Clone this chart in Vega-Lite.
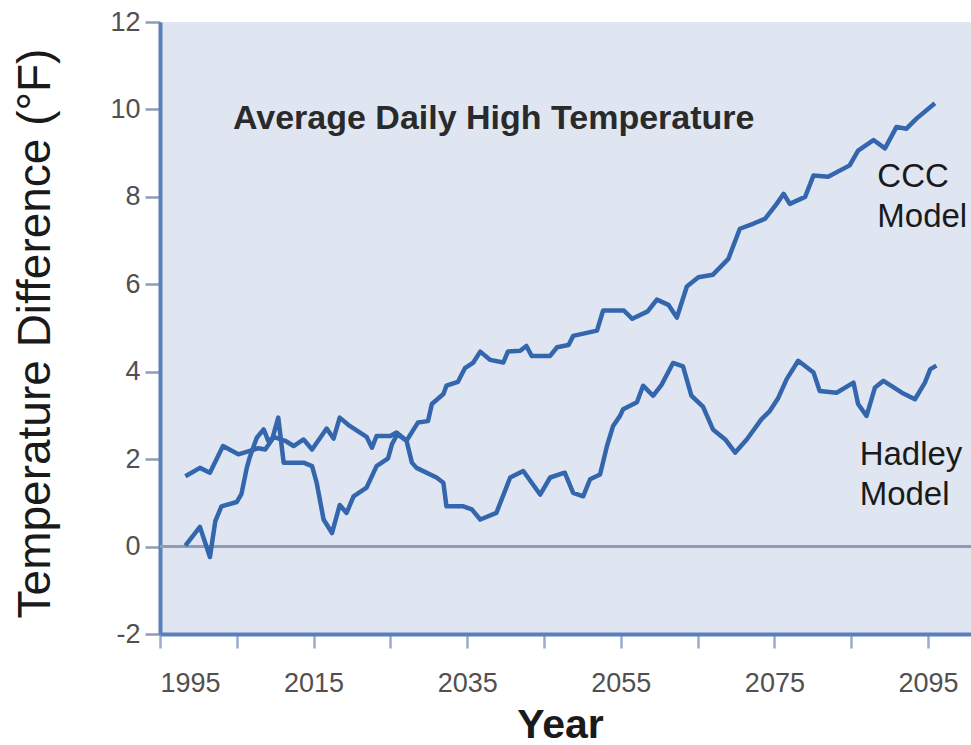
{
  "$schema": "https://vega.github.io/schema/vega-lite/v6.json",
  "width": 811,
  "height": 612,
  "autosize": "none",
  "padding": {"left": 160, "top": 22, "right": 0, "bottom": 111},
  "background": "white",
  "config": {
    "view": {"fill": "#dfe6f2", "stroke": null},
    "font": "Liberation Sans"
  },
  "datasets": {
    "series": [
      {"model": "CCC", "year": 1998.3, "temp": 0.02},
      {"model": "CCC", "year": 2000.2, "temp": 0.45},
      {"model": "CCC", "year": 2001.5, "temp": -0.24},
      {"model": "CCC", "year": 2002.2, "temp": 0.58},
      {"model": "CCC", "year": 2003.0, "temp": 0.92},
      {"model": "CCC", "year": 2005.0, "temp": 1.02},
      {"model": "CCC", "year": 2005.6, "temp": 1.2},
      {"model": "CCC", "year": 2006.3, "temp": 1.8},
      {"model": "CCC", "year": 2006.7, "temp": 2.05},
      {"model": "CCC", "year": 2007.6, "temp": 2.49},
      {"model": "CCC", "year": 2008.5, "temp": 2.68},
      {"model": "CCC", "year": 2009.1, "temp": 2.42},
      {"model": "CCC", "year": 2010.0, "temp": 2.5},
      {"model": "CCC", "year": 2011.3, "temp": 2.42},
      {"model": "CCC", "year": 2012.4, "temp": 2.3},
      {"model": "CCC", "year": 2013.7, "temp": 2.45},
      {"model": "CCC", "year": 2014.8, "temp": 2.22},
      {"model": "CCC", "year": 2016.7, "temp": 2.7},
      {"model": "CCC", "year": 2017.6, "temp": 2.47},
      {"model": "CCC", "year": 2018.4, "temp": 2.95},
      {"model": "CCC", "year": 2019.7, "temp": 2.76},
      {"model": "CCC", "year": 2021.9, "temp": 2.51},
      {"model": "CCC", "year": 2022.6, "temp": 2.26},
      {"model": "CCC", "year": 2023.2, "temp": 2.53},
      {"model": "CCC", "year": 2025.0, "temp": 2.53},
      {"model": "CCC", "year": 2025.8, "temp": 2.61},
      {"model": "CCC", "year": 2027.1, "temp": 2.42},
      {"model": "CCC", "year": 2028.6, "temp": 2.84},
      {"model": "CCC", "year": 2029.9, "temp": 2.87},
      {"model": "CCC", "year": 2030.4, "temp": 3.26},
      {"model": "CCC", "year": 2031.9, "temp": 3.49},
      {"model": "CCC", "year": 2032.3, "temp": 3.68},
      {"model": "CCC", "year": 2033.8, "temp": 3.77},
      {"model": "CCC", "year": 2034.7, "temp": 4.08},
      {"model": "CCC", "year": 2035.8, "temp": 4.21},
      {"model": "CCC", "year": 2036.7, "temp": 4.46},
      {"model": "CCC", "year": 2038.0, "temp": 4.27},
      {"model": "CCC", "year": 2039.7, "temp": 4.21},
      {"model": "CCC", "year": 2040.3, "temp": 4.46},
      {"model": "CCC", "year": 2041.9, "temp": 4.48},
      {"model": "CCC", "year": 2042.7, "temp": 4.59},
      {"model": "CCC", "year": 2043.4, "temp": 4.36},
      {"model": "CCC", "year": 2045.8, "temp": 4.36},
      {"model": "CCC", "year": 2046.7, "temp": 4.56},
      {"model": "CCC", "year": 2048.2, "temp": 4.61},
      {"model": "CCC", "year": 2048.8, "temp": 4.82},
      {"model": "CCC", "year": 2051.9, "temp": 4.94},
      {"model": "CCC", "year": 2052.7, "temp": 5.4},
      {"model": "CCC", "year": 2055.4, "temp": 5.4},
      {"model": "CCC", "year": 2056.5, "temp": 5.21},
      {"model": "CCC", "year": 2058.5, "temp": 5.38},
      {"model": "CCC", "year": 2059.7, "temp": 5.65},
      {"model": "CCC", "year": 2061.2, "temp": 5.53},
      {"model": "CCC", "year": 2062.3, "temp": 5.24},
      {"model": "CCC", "year": 2063.6, "temp": 5.95},
      {"model": "CCC", "year": 2065.1, "temp": 6.16},
      {"model": "CCC", "year": 2067.0, "temp": 6.22},
      {"model": "CCC", "year": 2069.0, "temp": 6.58},
      {"model": "CCC", "year": 2070.5, "temp": 7.27},
      {"model": "CCC", "year": 2072.3, "temp": 7.39},
      {"model": "CCC", "year": 2073.8, "temp": 7.5},
      {"model": "CCC", "year": 2075.3, "temp": 7.84},
      {"model": "CCC", "year": 2076.2, "temp": 8.07},
      {"model": "CCC", "year": 2077.0, "temp": 7.84},
      {"model": "CCC", "year": 2079.0, "temp": 8.0},
      {"model": "CCC", "year": 2080.1, "temp": 8.49},
      {"model": "CCC", "year": 2082.0, "temp": 8.46},
      {"model": "CCC", "year": 2084.8, "temp": 8.72},
      {"model": "CCC", "year": 2085.9, "temp": 9.06},
      {"model": "CCC", "year": 2087.9, "temp": 9.3},
      {"model": "CCC", "year": 2089.4, "temp": 9.11},
      {"model": "CCC", "year": 2090.9, "temp": 9.6},
      {"model": "CCC", "year": 2092.2, "temp": 9.56},
      {"model": "CCC", "year": 2093.5, "temp": 9.79},
      {"model": "CCC", "year": 2095.9, "temp": 10.14},
      {"model": "Hadley", "year": 1998.3, "temp": 1.61},
      {"model": "Hadley", "year": 2000.2, "temp": 1.8},
      {"model": "Hadley", "year": 2001.5, "temp": 1.69},
      {"model": "Hadley", "year": 2003.2, "temp": 2.3},
      {"model": "Hadley", "year": 2005.2, "temp": 2.11},
      {"model": "Hadley", "year": 2006.7, "temp": 2.19},
      {"model": "Hadley", "year": 2007.8, "temp": 2.25},
      {"model": "Hadley", "year": 2008.7, "temp": 2.22},
      {"model": "Hadley", "year": 2009.6, "temp": 2.45},
      {"model": "Hadley", "year": 2010.4, "temp": 2.95},
      {"model": "Hadley", "year": 2011.1, "temp": 1.92},
      {"model": "Hadley", "year": 2013.7, "temp": 1.92},
      {"model": "Hadley", "year": 2014.8, "temp": 1.84},
      {"model": "Hadley", "year": 2015.4, "temp": 1.46},
      {"model": "Hadley", "year": 2016.3, "temp": 0.62},
      {"model": "Hadley", "year": 2017.4, "temp": 0.31},
      {"model": "Hadley", "year": 2018.4, "temp": 0.95},
      {"model": "Hadley", "year": 2019.3, "temp": 0.77},
      {"model": "Hadley", "year": 2020.2, "temp": 1.15},
      {"model": "Hadley", "year": 2021.9, "temp": 1.35},
      {"model": "Hadley", "year": 2023.2, "temp": 1.84},
      {"model": "Hadley", "year": 2024.7, "temp": 2.02},
      {"model": "Hadley", "year": 2025.2, "temp": 2.34},
      {"model": "Hadley", "year": 2025.9, "temp": 2.57},
      {"model": "Hadley", "year": 2027.1, "temp": 2.42},
      {"model": "Hadley", "year": 2027.8, "temp": 1.92},
      {"model": "Hadley", "year": 2028.4, "temp": 1.8},
      {"model": "Hadley", "year": 2031.0, "temp": 1.58},
      {"model": "Hadley", "year": 2031.9, "temp": 1.46},
      {"model": "Hadley", "year": 2032.3, "temp": 0.92},
      {"model": "Hadley", "year": 2034.5, "temp": 0.92},
      {"model": "Hadley", "year": 2035.6, "temp": 0.85},
      {"model": "Hadley", "year": 2036.7, "temp": 0.62},
      {"model": "Hadley", "year": 2038.8, "temp": 0.77},
      {"model": "Hadley", "year": 2040.6, "temp": 1.58},
      {"model": "Hadley", "year": 2042.3, "temp": 1.73},
      {"model": "Hadley", "year": 2044.5, "temp": 1.19},
      {"model": "Hadley", "year": 2045.8, "temp": 1.58},
      {"model": "Hadley", "year": 2047.7, "temp": 1.69},
      {"model": "Hadley", "year": 2048.8, "temp": 1.23},
      {"model": "Hadley", "year": 2050.1, "temp": 1.15},
      {"model": "Hadley", "year": 2051.0, "temp": 1.54},
      {"model": "Hadley", "year": 2052.3, "temp": 1.65},
      {"model": "Hadley", "year": 2053.2, "temp": 2.3},
      {"model": "Hadley", "year": 2054.0, "temp": 2.76},
      {"model": "Hadley", "year": 2054.9, "temp": 2.99},
      {"model": "Hadley", "year": 2055.3, "temp": 3.14},
      {"model": "Hadley", "year": 2057.1, "temp": 3.3},
      {"model": "Hadley", "year": 2057.9, "temp": 3.68},
      {"model": "Hadley", "year": 2059.2, "temp": 3.45},
      {"model": "Hadley", "year": 2060.3, "temp": 3.7},
      {"model": "Hadley", "year": 2061.8, "temp": 4.2},
      {"model": "Hadley", "year": 2063.1, "temp": 4.12},
      {"model": "Hadley", "year": 2064.2, "temp": 3.45},
      {"model": "Hadley", "year": 2065.7, "temp": 3.2},
      {"model": "Hadley", "year": 2067.0, "temp": 2.68},
      {"model": "Hadley", "year": 2068.6, "temp": 2.45},
      {"model": "Hadley", "year": 2069.9, "temp": 2.15},
      {"model": "Hadley", "year": 2071.4, "temp": 2.45},
      {"model": "Hadley", "year": 2073.3, "temp": 2.91},
      {"model": "Hadley", "year": 2074.4, "temp": 3.1},
      {"model": "Hadley", "year": 2075.5, "temp": 3.4},
      {"model": "Hadley", "year": 2076.6, "temp": 3.83},
      {"model": "Hadley", "year": 2078.1, "temp": 4.25},
      {"model": "Hadley", "year": 2080.1, "temp": 3.98},
      {"model": "Hadley", "year": 2080.9, "temp": 3.56},
      {"model": "Hadley", "year": 2083.1, "temp": 3.52},
      {"model": "Hadley", "year": 2085.3, "temp": 3.75},
      {"model": "Hadley", "year": 2085.9, "temp": 3.26},
      {"model": "Hadley", "year": 2087.0, "temp": 2.99},
      {"model": "Hadley", "year": 2088.1, "temp": 3.64},
      {"model": "Hadley", "year": 2089.2, "temp": 3.79},
      {"model": "Hadley", "year": 2091.6, "temp": 3.52},
      {"model": "Hadley", "year": 2093.3, "temp": 3.37},
      {"model": "Hadley", "year": 2094.6, "temp": 3.75},
      {"model": "Hadley", "year": 2095.3, "temp": 4.06},
      {"model": "Hadley", "year": 2096.1, "temp": 4.14}
    ]
  },
  "layer": [
    {
      "data": {"values": [{}]},
      "mark": {"type": "rule", "color": "#8e9cb7", "strokeWidth": 3},
      "encoding": {"y": {"datum": 0, "type": "quantitative"}}
    },
    {
      "data": {"name": "series"},
      "mark": {"type": "line", "color": "#3466ad", "strokeWidth": 4.5, "strokeJoin": "round", "clip": true},
      "encoding": {
        "x": {
          "field": "year",
          "type": "quantitative",
          "scale": {"domain": [1995, 2100.6], "nice": false, "zero": false},
          "axis": {
            "values": [1995, 2005, 2015, 2025, 2035, 2045, 2055, 2065, 2075, 2085, 2095],
            "format": "d",
            "labelExpr": "(datum.value - 1995) % 20 == 0 ? datum.label : ''",
            "labelFontSize": 27,
            "labelColor": "#505050",
            "labelPadding": 22,
            "tickSize": 14,
            "tickColor": "#9aabcb",
            "tickWidth": 2.5,
            "domainColor": "#5b80b9",
            "domainWidth": 4,
            "grid": false,
            "title": "Year",
            "titleFontSize": 41,
            "titleFontWeight": "bold",
            "titleColor": "#1a1a1a",
            "titleX": 400,
            "titleY": 103,
            "titleBaseline": "alphabetic",
            "titleAnchor": null
          }
        },
        "y": {
          "field": "temp",
          "type": "quantitative",
          "scale": {"domain": [-2, 12], "nice": false, "zero": false},
          "axis": {
            "values": [-2, 0, 2, 4, 6, 8, 10, 12],
            "labelExpr": "replace(datum.label, '\u2212', '-')",
            "labelFontSize": 27,
            "labelColor": "#505050",
            "labelPadding": 5,
            "tickSize": 15,
            "tickColor": "#8e9cb7",
            "tickWidth": 2.5,
            "domainColor": "#5b80b9",
            "domainWidth": 4,
            "grid": false,
            "title": "Temperature Difference (°F)",
            "titleFontSize": 46,
            "titleFontWeight": "normal",
            "titleColor": "#1a1a1a",
            "titleAngle": -90,
            "titleX": -125,
            "titleY": 311,
            "titleBaseline": "middle",
            "titleAlign": "center"
          }
        },
        "detail": {"field": "model", "type": "nominal"}
      }
    },
    {
      "data": {"values": [{}]},
      "mark": {"type": "text", "text": "Average Daily High Temperature", "fontSize": 34, "fontWeight": "bold", "align": "left", "baseline": "alphabetic", "color": "#2a2a2a"},
      "encoding": {"x": {"datum": 2004.5, "type": "quantitative"}, "y": {"datum": 9.55, "type": "quantitative"}}
    },
    {
      "data": {"values": [{}]},
      "mark": {"type": "text", "text": ["CCC", "Model"], "fontSize": 33, "lineHeight": 40, "align": "left", "baseline": "alphabetic", "color": "#1a1a1a"},
      "encoding": {"x": {"datum": 2088.4, "type": "quantitative"}, "y": {"datum": 8.23, "type": "quantitative"}}
    },
    {
      "data": {"values": [{}]},
      "mark": {"type": "text", "text": ["Hadley", "Model"], "fontSize": 33, "lineHeight": 40, "align": "left", "baseline": "alphabetic", "color": "#1a1a1a"},
      "encoding": {"x": {"datum": 2086.1, "type": "quantitative"}, "y": {"datum": 1.87, "type": "quantitative"}}
    }
  ]
}
